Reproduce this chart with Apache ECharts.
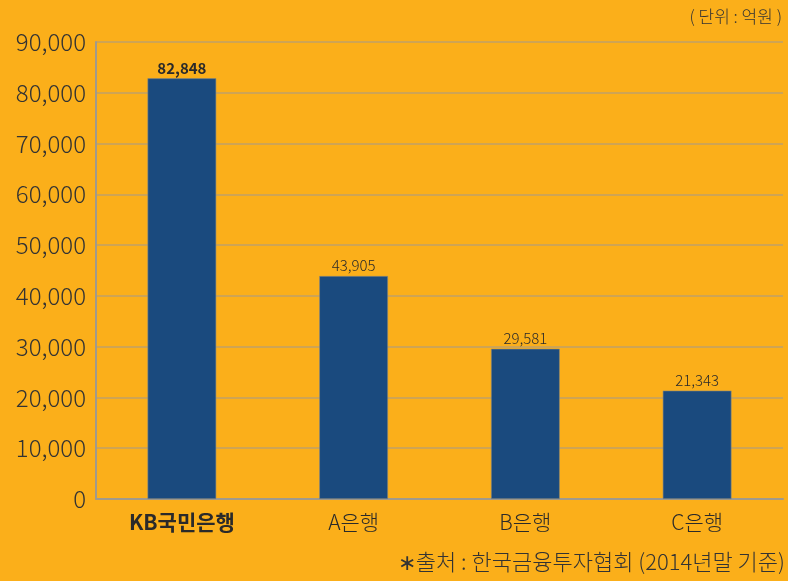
<!DOCTYPE html>
<html><head><meta charset="utf-8">
<script src="https://cdn.jsdelivr.net/npm/echarts@6/dist/echarts.min.js"></script>
<style>html,body{margin:0;padding:0;background:#FBAF1A;}#c{width:788px;height:581px;}</style>
</head><body><div id="c"></div>
<script>
const categories = ['KB국민은행', 'A은행', 'B은행', 'C은행'];
const values = [82848, 43905, 29581, 21343];
const unitText = '( 단위 : 억원 )';
const sourceText = '∗출처 : 한국금융투자협회 (2014년말 기준)';
const font = '"Noto Sans CJK KR", "Noto Sans", sans-serif';

const chart = echarts.init(document.getElementById('c'), null, {renderer: 'canvas'});
chart.setOption({
  backgroundColor: '#FBAF1A',
  animation: false,
  grid: {left: 96, right: 5, top: 42, bottom: 82},
  graphic: [
    {type: 'text', right: 6, top: 8, style: {text: unitText, font: '300 17px ' + font, fill: '#333'}},
    {type: 'text', right: 3, top: 551, style: {text: sourceText, font: '300 22px ' + font, fill: '#333'}}
  ],
  xAxis: {
    type: 'category', data: categories,
    axisLine: {lineStyle: {color: '#a09a8c', width: 2}},
    axisTick: {show: false},
    axisLabel: {
      interval: 0,
      margin: 13, fontSize: 21, fontWeight: 300, fontFamily: font, color: '#2a2a2a',
      formatter: (v, i) => i === 0 ? '{b|' + v + '}' : v,
      rich: {b: {fontSize: 21, fontWeight: 'bold', fontFamily: font, color: '#2a2a2a'}}
    }
  },
  yAxis: {
    type: 'value', min: 0, max: 90000, interval: 10000,
    axisLine: {show: true, lineStyle: {color: '#a09a8c', width: 2}},
    axisTick: {show: false},
    splitLine: {lineStyle: {color: '#bfa068', width: 1.5}},
    axisLabel: {
      margin: 10, fontSize: 24, fontWeight: 300, fontFamily: font, color: '#333',
      formatter: v => v.toLocaleString('en-US')
    }
  },
  series: [{
    type: 'bar', data: values.map((v, i) => ({
      value: v,
      label: {fontWeight: i === 0 ? 'bold' : 300}
    })),
    barWidth: '40%',
    itemStyle: {color: '#1a4a7e', borderColor: '#8a8a80', borderWidth: 0.6},
    label: {
      show: true, position: 'top', distance: 3, fontSize: 15, fontFamily: font, color: '#2a2a2a',
      formatter: p => p.value.toLocaleString('en-US')
    }
  }]
});
</script></body></html>
